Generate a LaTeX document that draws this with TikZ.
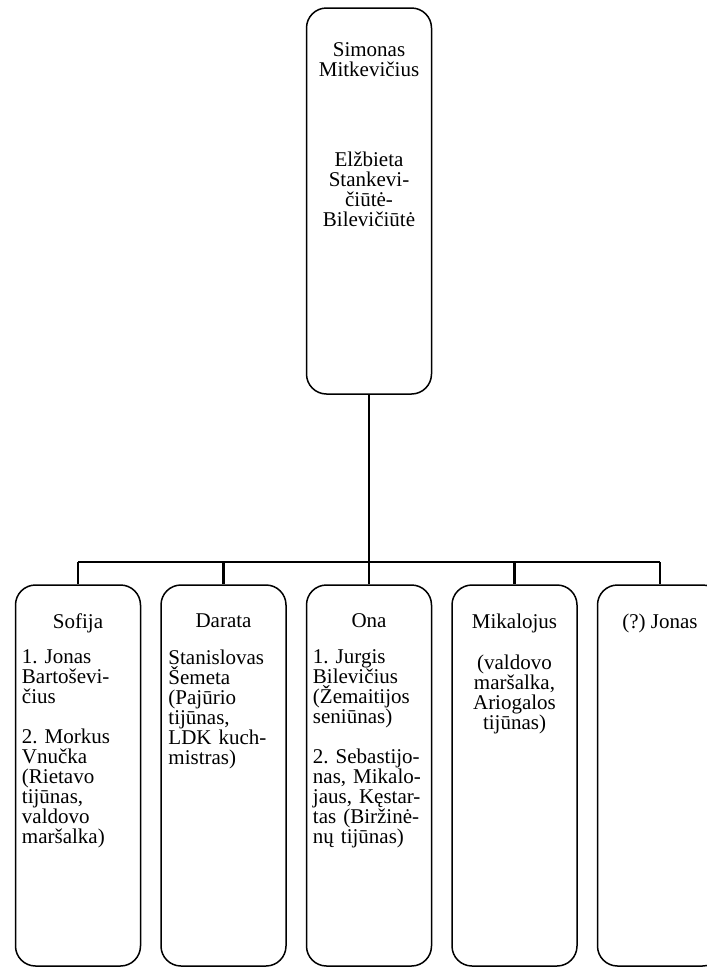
\documentclass[tikz,border=0pt]{standalone}
\usepackage{fontspec}
\setmainfont{Liberation Serif}
\usetikzlibrary{positioning}
\frenchspacing

\tikzset{
    person/.style={draw, line width=1.5pt, rounded corners=20pt, minimum width=125pt, inner sep=0pt},
    intro/.style={font=\fontsize{21}{20}\selectfont, inner sep=0pt, align=center, anchor=north},
    spouses/.style={font=\fontsize{21}{20}\selectfont, inner sep=0pt, text width=112pt, align=left, anchor=north west},
    link/.style={line width=2.8pt},
    drop/.style={line width=2.2pt}
}

\begin{document}
\begin{tikzpicture}[x=1pt, y=-1pt]
    \useasboundingbox (0,0) rectangle (707,967);
    % parents
    \node[person, minimum height=386pt] (parents) at (369,201) {};
    \node[intro, below=35pt of parents.north] (simonas) {Simonas\\Mitkevičius};
    \node[intro, below=144pt of parents.north] (elzbieta) {Elžbieta\\Stankevi-\\čiūtė-\\Bilevičiūtė};
    % children
    \foreach \name/\x in {sofija/78, darata/223.5, ona/369, mikalojus/514.5, jonas/660}
        \node[person, minimum height=381pt] (\name) at (\x,775.5) {};
    \node[intro, below=29pt of sofija.north] (sofijaname) {Sofija};
    \node[intro, below=29pt of darata.north] (darataname) {Darata};
    \node[intro, below=29pt of ona.north] (onaname) {Ona};
    \node[intro, below=29pt of mikalojus.north] (mikalojusname) {Mikalojus};
    \node[intro, below=29pt of jonas.north] (jonasname) {(?) Jonas};
    \node[spouses] (sofijaspouses) at ([xshift=7pt, yshift=-65pt]sofija.north west)
        {1. Jonas\\Bartoševi-\\čius\\[20pt]2. Morkus\\Vnučka\\(Rietavo\\tijūnas,\\valdovo\\maršalka)};
    \node[spouses] (darataspouses) at ([xshift=8pt, yshift=-65pt]darata.north west)
        {Stanislovas\\Šemeta\\(Pajūrio\\tijūnas,\\LDK kuch-\\mistras)};
    \node[spouses] (onaspouses) at ([xshift=7pt, yshift=-65pt]ona.north west)
        {1. Jurgis\\Bilevičius\\(Žemaitijos\\seniūnas)\\[20pt]2. Sebastijo-\\nas, Mikalo-\\jaus, Kęstar-\\tas (Biržinė-\\nų tijūnas)};
    \node[intro, below=70pt of mikalojus.north] (mikalojusoffice) {(valdovo\\maršalka,\\Ariogalos\\tijūnas)};
    % lines
    \coordinate (bar) at (369,562);
    \draw[link] (parents.south) -- (parents.south |- bar);
    \draw[link] (sofija.north |- bar) -- (jonas.north |- bar);
    \foreach \name in {sofija,darata,ona,mikalojus,jonas}
        \draw[drop] (\name.north |- bar) -- (\name.north);
\end{tikzpicture}
\end{document}
